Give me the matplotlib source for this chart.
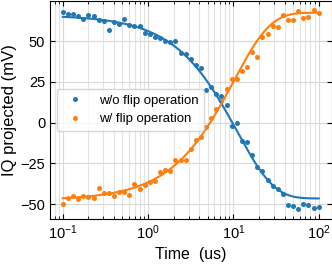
import numpy as np
import matplotlib
matplotlib.use("Agg")
import matplotlib.pyplot as plt

plt.rcParams['font.family'] = ['Liberation Sans', 'DejaVu Sans']
plt.rcParams['mathtext.default'] = 'regular'

# time axis (us), 51 log-spaced points from 0.1 to 100
t_exp = np.linspace(-1, 2, 51)
time_us = 10 ** t_exp

wo_flip = [67.9, 66.5, 66.7, 65.7, 63.6, 65.9, 65.3, 63.2, 62.2, 56.9,
           61.8, 60.6, 63.8, 59.8, 59.2, 59.6, 55.3, 54.5, 52.6, 52.0,
           50.2, 49.5, 50.0, 42.7, 42.1, 38.8, 35.5, 33.6, 20.0, 22.2,
           17.8, 16.5, 10.8, -2.2, 0.0, -11.4, -12.0, -19.7, -27.0, -29.5,
           -35.4, -39.0, -40.9, -43.5, -50.4, -51.0, -53.0, -50.0, -50.2, -52.2,
           -52.0]

w_flip = [-49.8, -46.1, -44.7, -46.8, -45.1, -45.3, -46.1, -40.0, -42.9, -43.3,
          -45.1, -42.5, -42.5, -44.5, -37.6, -40.5, -38.0, -36.4, -35.6, -30.3,
          -29.1, -29.5, -22.6, -22.8, -22.8, -16.0, -10.8, -8.8, -2.8, 2.8,
          8.6, 13.5, 20.8, 27.1, 26.9, 31.9, 34.2, 43.5, 40.4, 52.6,
          54.5, 59.3, 59.0, 65.9, 63.3, 62.8, 68.4, 64.2, 64.8, 68.9,
          67.5]

# exponential fit parameters: offset, amplitude, tau (us)
fit_wo = [-46.5, 112.5, 11.0]
fit_w = [67.5, -115.0, 10.0]

c_blue = '#1f77b4'
c_orange = '#ff7f0e'

fig = plt.figure(figsize=(3.32, 2.64), dpi=100)
ax = fig.add_axes([50/332, 45/264, 281.5/332, 218.5/264])

ax.plot(time_us, wo_flip, 'o', color=c_blue, ms=3.6, mew=0, label='w/o flip operation')
ax.plot(time_us, w_flip, 'o', color=c_orange, ms=3.6, mew=0, label='w/ flip operation')

tf = np.logspace(-1, 2, 400)
ax.plot(tf, fit_wo[0] + fit_wo[1] * np.exp(-tf / fit_wo[2]), '-', color=c_blue, lw=1.5)
ax.plot(tf, fit_w[0] + fit_w[1] * np.exp(-tf / fit_w[2]), '-', color=c_orange, lw=1.5)

ax.set_xscale('log')
ax.set_yticks([-50, -25, 0, 25, 50])
ax.grid(True, which='major', color='#d9d9d9', lw=0.8)
ax.grid(True, which='minor', axis='x', color='#e3e3e3', lw=0.8)
ax.set_axisbelow(True)
ax.tick_params(which='both', direction='in', top=True, right=True, labelsize=10.5)
ax.tick_params(which='major', length=3.5)
ax.tick_params(which='minor', length=2)

ax.set_xlabel('Time  (us)', fontsize=11.5, labelpad=3)
ax.set_ylabel('IQ projected (mV)', fontsize=12, labelpad=2)

ax.legend(loc='upper left', bbox_to_anchor=(0.0, 0.625), fontsize=9.5,
          markerscale=1.0, frameon=True)

fig.savefig('out.png', dpi=100)
